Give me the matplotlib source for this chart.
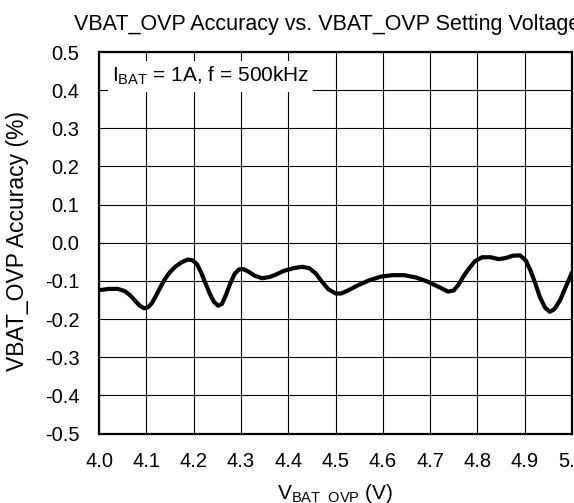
import matplotlib
matplotlib.use('Agg')
import matplotlib.pyplot as plt

# values
v_ovp = [4.003, 4.020, 4.040, 4.055, 4.066, 4.077, 4.087, 4.096, 4.104, 4.112,
         4.120, 4.130, 4.140, 4.150, 4.162, 4.175, 4.188, 4.198, 4.207, 4.216,
         4.225, 4.234, 4.243, 4.252, 4.260, 4.268, 4.277, 4.287, 4.296, 4.305,
         4.315, 4.330, 4.345, 4.360, 4.375, 4.390, 4.410, 4.430, 4.445, 4.458,
         4.470, 4.485, 4.500, 4.512, 4.525, 4.545, 4.570, 4.595, 4.620, 4.645,
         4.670, 4.695, 4.720, 4.738, 4.750, 4.760, 4.770, 4.782, 4.795, 4.810,
         4.828, 4.845, 4.860, 4.875, 4.890, 4.902, 4.912, 4.922, 4.932, 4.943,
         4.953, 4.963, 4.975, 4.987, 5.000]
accuracy = [-0.124, -0.121, -0.121, -0.127, -0.138, -0.153, -0.166, -0.172, -0.169, -0.158,
            -0.140, -0.116, -0.094, -0.077, -0.062, -0.051, -0.044, -0.046, -0.056, -0.078,
            -0.106, -0.133, -0.155, -0.165, -0.160, -0.138, -0.108, -0.081, -0.070, -0.069,
            -0.075, -0.087, -0.093, -0.090, -0.083, -0.074, -0.067, -0.063, -0.067, -0.080,
            -0.100, -0.122, -0.133, -0.133, -0.126, -0.113, -0.099, -0.089, -0.085, -0.085,
            -0.091, -0.102, -0.117, -0.128, -0.125, -0.110, -0.089, -0.068, -0.048, -0.038,
            -0.038, -0.043, -0.040, -0.034, -0.033, -0.046, -0.072, -0.105, -0.142, -0.170,
            -0.181, -0.174, -0.150, -0.115, -0.078]

x_ticks = [4.0, 4.1, 4.2, 4.3, 4.4, 4.5, 4.6, 4.7, 4.8, 4.9, 5.0]
y_ticks = [-0.5, -0.4, -0.3, -0.2, -0.1, 0.0, 0.1, 0.2, 0.3, 0.4, 0.5]


def main():
    plt.rcParams['font.family'] = ['Liberation Sans', 'DejaVu Sans']
    plt.rcParams['mathtext.fontset'] = 'custom'
    plt.rcParams['mathtext.rm'] = 'Liberation Sans'

    fig = plt.figure(figsize=(5.74, 5.03), dpi=100)
    ax = fig.add_axes([99 / 574, (503 - 433.5) / 503, 473 / 574, 381.5 / 503])

    ax.plot(v_ovp, accuracy, color='black', linewidth=3.0,
            solid_capstyle='round', solid_joinstyle='round', zorder=3)

    ax.set_xlim(4.0, 5.0)
    ax.set_ylim(-0.5, 0.5)
    ax.set_xticks(x_ticks)
    ax.set_yticks(y_ticks)
    ax.set_xticklabels(['%.1f' % t for t in x_ticks])
    ax.set_yticklabels(['%.1f' % t for t in y_ticks])
    ax.tick_params(length=0, labelsize=14.5, colors='black')
    ax.tick_params(axis='y', pad=14)
    ax.tick_params(axis='x', pad=13)
    ax.grid(True, color='black', linewidth=0.8)
    for s in ax.spines.values():
        s.set_linewidth(1.6)

    ax.text(0.0275, 0.921, r'$\mathregular{I_{BAT}}$ = 1A, f = 500kHz',
            transform=ax.transAxes, fontsize=15, va='baseline', ha='left',
            bbox=dict(facecolor='white', edgecolor='none', pad=3), zorder=4)

    fig.text(74 / 574, 1 - 30 / 503, 'VBAT_OVP Accuracy vs. VBAT_OVP Setting Voltage',
             fontsize=15.5, ha='left', va='baseline')
    fig.text(18 / 574, 1 - 241 / 503, 'VBAT_OVP Accuracy (%)', fontsize=16.5,
             rotation=90, ha='center', va='center')
    fig.text(335 / 574, 1 - 499 / 503, r'$\mathregular{V_{BAT\_OVP}}$ (V)',
             fontsize=15, ha='center', va='baseline')

    fig.savefig('out.png', dpi=100)


if __name__ == '__main__':
    main()
